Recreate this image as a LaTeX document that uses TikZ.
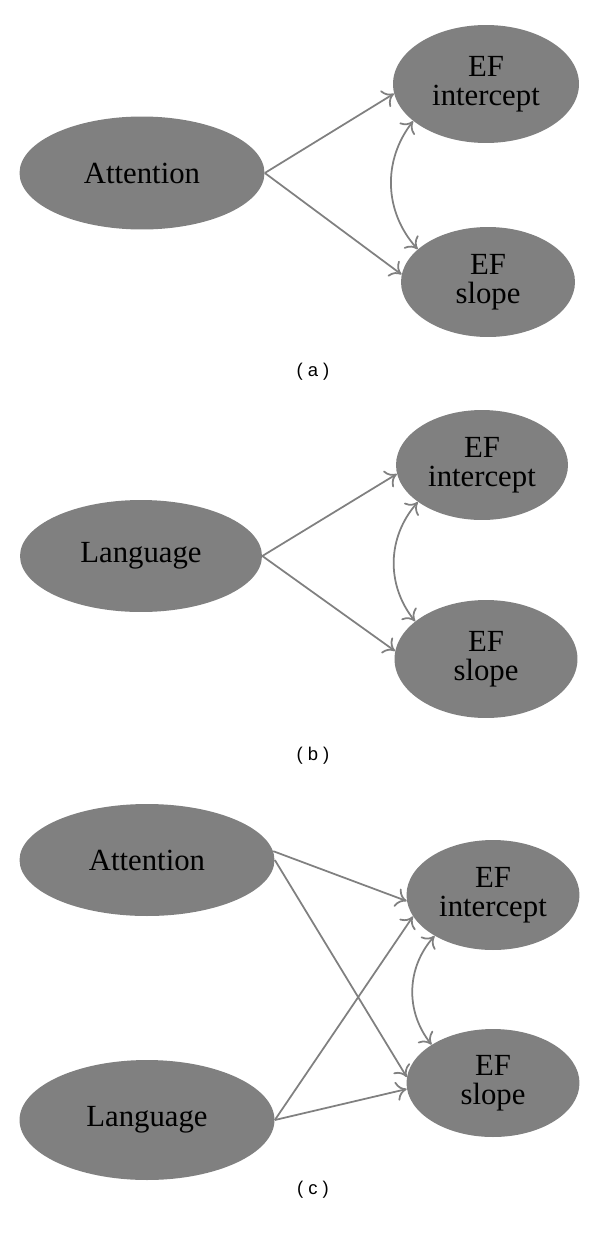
\documentclass[tikz,border=0pt]{standalone}
\usepackage{fontspec}
\setmainfont{Liberation Serif}
\setsansfont{Liberation Sans}
\usetikzlibrary{shapes.geometric,arrows.meta}

\begin{document}
\begin{tikzpicture}[x=0.02cm,y=-0.02cm,
  latent/.style={ellipse,fill=gray,inner sep=0pt,align=center,
    font=\fontsize{17.5}{16.5}\selectfont},
  regpath/.style={draw=gray,line width=1pt,-{To[length=6pt,width=11pt]}},
  covpath/.style={draw=gray,line width=1pt,
    {To[length=6pt,width=11pt]}-{To[length=6pt,width=11pt]}},
  panel/.style={font=\sffamily\fontsize{10.5}{12}\selectfont}]
\useasboundingbox (0,0) rectangle (600,1234);

% (a)
\node[latent,minimum width=4.9cm,minimum height=2.26cm] (attA) at (142,173) {Attention};
\node[latent,minimum width=3.72cm,minimum height=2.36cm] (intA) at (486,84) {EF\\intercept};
\node[latent,minimum width=3.48cm,minimum height=2.2cm] (slpA) at (488,282) {EF\\slope};
\draw[regpath] (attA.east) -- (intA.186);
\draw[regpath] (attA.east) -- (slpA.175);
\draw[covpath] (intA.207) to[bend right=40] (slpA.155);
\node[panel] (labA) at (313,372) {( a )};

% (b)
\node[latent,minimum width=4.84cm,minimum height=2.24cm] (lanB) at (141,556) {Language};
\node[latent,minimum width=3.44cm,minimum height=2.2cm] (intB) at (482,465) {EF\\intercept};
\node[latent,minimum width=3.66cm,minimum height=2.36cm] (slpB) at (486,659) {EF\\slope};
\draw[regpath] (lanB.east) -- (intB.186);
\draw[regpath] (lanB.east) -- (slpB.175);
\draw[covpath] (intB.210) to[bend right=40] (slpB.152);
\node[panel] (labB) at (313,756) {( b )};

% (c)
\node[latent,minimum width=5.1cm,minimum height=2.24cm] (attC) at (147,860) {Attention};
\node[latent,minimum width=5.1cm,minimum height=2.4cm] (lanC) at (147,1120) {Language};
\node[latent,minimum width=3.46cm,minimum height=2.2cm] (intC) at (493,895) {EF\\intercept};
\node[latent,minimum width=3.46cm,minimum height=2.16cm] (slpC) at (493,1083) {EF\\slope};
\draw[regpath] (attC.4) -- (intC.184);
\draw[regpath] (attC.east) -- (slpC.176);
\draw[regpath] (lanC.east) -- (intC.195);
\draw[regpath] (lanC.east) -- (slpC.184);
\draw[covpath] (intC.215) to[bend right=40] (slpC.148);
\node[panel] (labC) at (313,1190) {( c )};
\end{tikzpicture}
\end{document}
